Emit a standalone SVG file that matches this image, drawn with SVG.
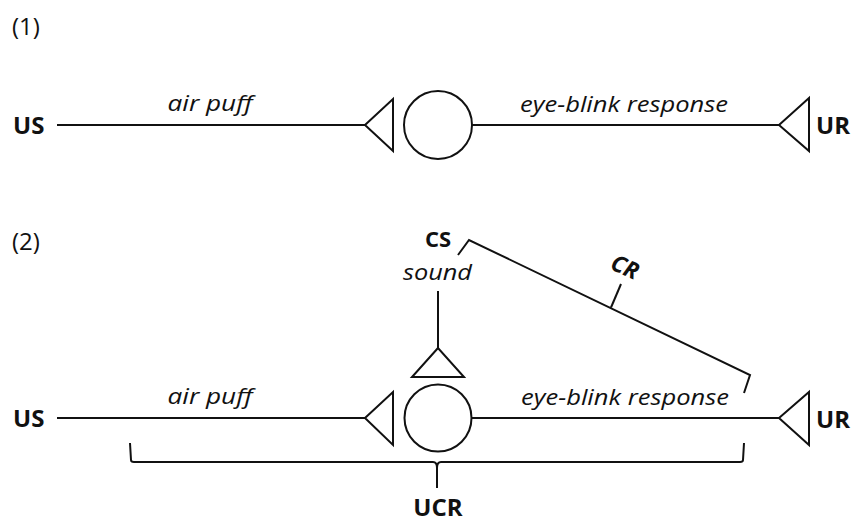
<svg xmlns="http://www.w3.org/2000/svg" width="855" height="524" viewBox="0 0 855 524">
<style>
.ln{fill:none;stroke:#111;stroke-width:2;stroke-linejoin:miter}
.b{font-family:"Open Sans","Liberation Sans",sans-serif;font-weight:bold;font-size:24px;fill:#111}
.i{font-family:"Open Sans","Liberation Sans",sans-serif;font-style:italic;font-size:22px;fill:#111}
.r{font-family:"Open Sans","Liberation Sans",sans-serif;font-size:24px;fill:#111}
</style>
<rect width="855" height="524" fill="#fff"/>
<text class="r" x="12" y="35">(1)</text>
<text class="r" x="12" y="250">(2)</text>
<g id="connectors">
<line class="ln" x1="57" y1="125" x2="365" y2="125"/>
<line class="ln" x1="472" y1="125" x2="779" y2="125"/>
<line class="ln" x1="57" y1="418" x2="365" y2="418"/>
<line class="ln" x1="472" y1="418" x2="779" y2="418"/>
<line class="ln" x1="438" y1="291" x2="438" y2="348"/>
<path class="ln" d="M458,255 L469,240 L750,375 L744,393"/>
<path class="ln" d="M611,307.5 L621,284"/>
<path class="ln" d="M130,443 L131,460 Q131,462 134,462 L433,462 Q437,462 437,468 L437,488 M437,468 Q437,462 441,462 L740,462 Q743,462 743,460 L744,443"/>
</g>
<g id="p1-US"><text class="b" x="13" y="134">US</text></g>
<g id="p1-airpuff"><text class="i" x="210" y="111" text-anchor="middle" textLength="85" lengthAdjust="spacingAndGlyphs">air puff</text></g>
<g id="p1-syn1"><path class="ln" d="M365,125 L393,99 L393,151 Z"/></g>
<g id="p1-neuron"><circle class="ln" cx="438" cy="125" r="34"/></g>
<g id="p1-eyeblink"><text class="i" x="624" y="112" text-anchor="middle" textLength="208" lengthAdjust="spacingAndGlyphs">eye-blink response</text></g>
<g id="p1-syn2"><path class="ln" d="M779,125 L809,98 L809,151 Z"/></g>
<g id="p1-UR"><text class="b" x="816" y="134">UR</text></g>

<g id="p2-US"><text class="b" x="13" y="427">US</text></g>
<g id="p2-airpuff"><text class="i" x="210" y="404" text-anchor="middle" textLength="85" lengthAdjust="spacingAndGlyphs">air puff</text></g>
<g id="p2-syn1"><path class="ln" d="M365,418 L393,392 L393,445 Z"/></g>
<g id="p2-neuron"><circle class="ln" cx="438" cy="418" r="33.5"/></g>
<g id="p2-syn3"><path class="ln" d="M438,348 L412,377 L464,377 Z"/></g>
<g id="p2-CS"><text class="b" x="438" y="247" text-anchor="middle" style="font-size:22px">CS</text>
<text class="i" x="437.5" y="280" text-anchor="middle" textLength="69" lengthAdjust="spacingAndGlyphs">sound</text></g>
<g id="p2-CR"><text class="b" transform="translate(625,267) rotate(24)" x="0" y="8" text-anchor="middle" style="font-size:23px;font-style:italic">CR</text></g>
<g id="p2-eyeblink"><text class="i" x="625" y="405" text-anchor="middle" textLength="208" lengthAdjust="spacingAndGlyphs">eye-blink response</text></g>
<g id="p2-syn2"><path class="ln" d="M779,418 L809,392 L809,445 Z"/></g>
<g id="p2-UR"><text class="b" x="816" y="428">UR</text></g>
<g id="p2-UCR"><text class="b" x="438" y="516" text-anchor="middle">UCR</text></g>
</svg>
